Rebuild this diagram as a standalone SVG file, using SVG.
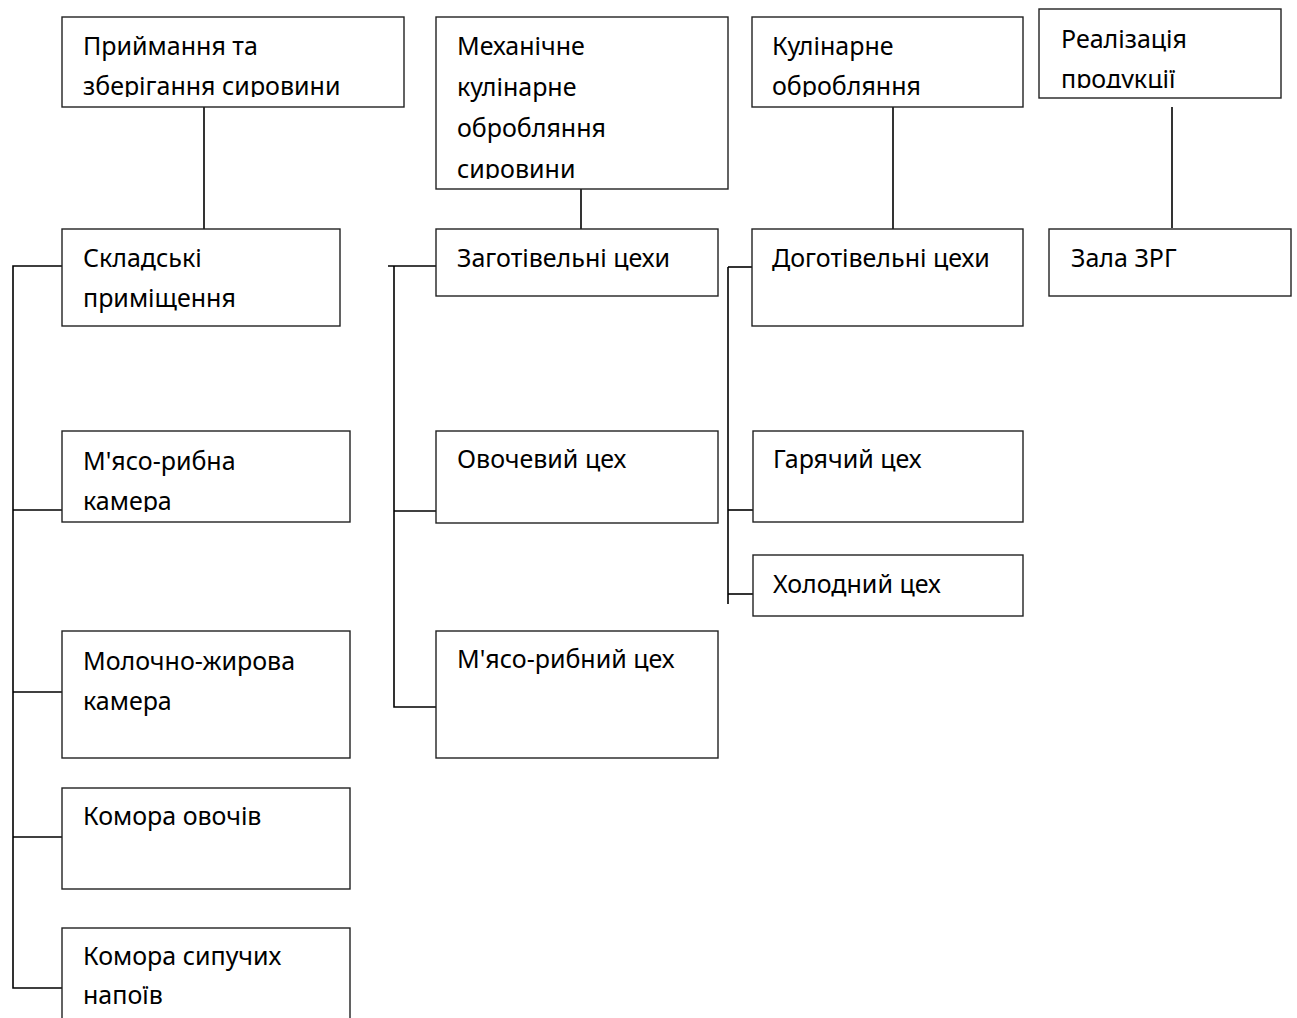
<svg xmlns="http://www.w3.org/2000/svg" width="1297" height="1018" viewBox="0 0 1297 1018">
<style>
.box{fill:#fff;stroke:#222;stroke-width:1.4}
.t{font-family:"Noto Sans","Open Sans",sans-serif;font-size:25px;fill:#000}
.c{stroke:#000;stroke-width:1.6;fill:none}
</style>
<defs>
<clipPath id="k1"><rect x="62" y="17" width="342" height="80"/></clipPath>
<clipPath id="k2"><rect x="436" y="17" width="292" height="162"/></clipPath>
<clipPath id="k3"><rect x="752" y="17" width="271" height="80"/></clipPath>
<clipPath id="k4"><rect x="1039" y="9" width="242" height="79"/></clipPath>
<clipPath id="k5"><rect x="62" y="431" width="288" height="81"/></clipPath>
</defs>
<rect width="1297" height="1018" fill="#fff"/>
<g id="connectors">
<line class="c" x1="204" y1="107" x2="204" y2="229"/>
<line class="c" x1="581" y1="189" x2="581" y2="229"/>
<line class="c" x1="893" y1="107" x2="893" y2="229"/>
<line class="c" x1="1172" y1="107" x2="1172" y2="228"/>
<polyline class="c" points="62,266 13,266 13,988 62,988"/>
<line class="c" x1="13" y1="510" x2="62" y2="510"/>
<line class="c" x1="13" y1="692" x2="62" y2="692"/>
<line class="c" x1="13" y1="837" x2="62" y2="837"/>
<line class="c" x1="388" y1="266" x2="436" y2="266"/>
<polyline class="c" points="394,266 394,707 436,707"/>
<line class="c" x1="394" y1="511" x2="436" y2="511"/>
<line class="c" x1="728" y1="267" x2="752" y2="267"/>
<line class="c" x1="728" y1="267" x2="728" y2="604"/>
<line class="c" x1="728" y1="510" x2="753" y2="510"/>
<line class="c" x1="728" y1="594" x2="753" y2="594"/>
</g>
<g id="n-pryimannia">
<rect class="box" x="62" y="17" width="342" height="90"/>
<g clip-path="url(#k1)"><text class="t" x="83" y="55">Приймання та</text><text class="t" x="83" y="95">зберігання сировини</text></g>
</g>
<g id="n-mekhanichne">
<rect class="box" x="436" y="17" width="292" height="172"/>
<g clip-path="url(#k2)"><text class="t" x="457" y="55">Механічне</text><text class="t" x="457" y="96">кулінарне</text><text class="t" x="457" y="137">обробляння</text><text class="t" x="457" y="178">сировини</text></g>
</g>
<g id="n-kulinarne">
<rect class="box" x="752" y="17" width="271" height="90"/>
<g clip-path="url(#k3)"><text class="t" x="772" y="55">Кулінарне</text><text class="t" x="772" y="95">обробляння</text></g>
</g>
<g id="n-realizatsiia">
<rect class="box" x="1039" y="9" width="242" height="89"/>
<g clip-path="url(#k4)"><text class="t" x="1061" y="48">Реалізація</text><text class="t" x="1061" y="88">продукції</text></g>
</g>
<g id="n-skladski">
<rect class="box" x="62" y="229" width="278" height="97"/>
<text class="t" x="83" y="267">Складські</text><text class="t" x="83" y="307">приміщення</text>
</g>
<g id="n-zagotivelni">
<rect class="box" x="436" y="229" width="282" height="67"/>
<text class="t" x="457" y="267">Заготівельні цехи</text>
</g>
<g id="n-dogotivelni">
<rect class="box" x="752" y="229" width="271" height="97"/>
<text class="t" x="772" y="267">Доготівельні цехи</text>
</g>
<g id="n-zala">
<rect class="box" x="1049" y="229" width="242" height="67"/>
<text class="t" x="1071" y="267">Зала ЗРГ</text>
</g>
<g id="n-miaso-kamera">
<rect class="box" x="62" y="431" width="288" height="91"/>
<g clip-path="url(#k5)"><text class="t" x="83" y="470">М'ясо-рибна</text><text class="t" x="83" y="510">камера</text></g>
</g>
<g id="n-ovochevyi">
<rect class="box" x="436" y="431" width="282" height="92"/>
<text class="t" x="457" y="468">Овочевий цех</text>
</g>
<g id="n-hariachyi">
<rect class="box" x="753" y="431" width="270" height="91"/>
<text class="t" x="773" y="468">Гарячий цех</text>
</g>
<g id="n-kholodnyi">
<rect class="box" x="753" y="555" width="270" height="61"/>
<text class="t" x="773" y="593">Холодний цех</text>
</g>
<g id="n-molochno">
<rect class="box" x="62" y="631" width="288" height="127"/>
<text class="t" x="83" y="670">Молочно-жирова</text><text class="t" x="83" y="710">камера</text>
</g>
<g id="n-miaso-tsekh">
<rect class="box" x="436" y="631" width="282" height="127"/>
<text class="t" x="457" y="668">М'ясо-рибний цех</text>
</g>
<g id="n-komora-ovochiv">
<rect class="box" x="62" y="788" width="288" height="101"/>
<text class="t" x="83" y="825">Комора овочів</text>
</g>
<g id="n-komora-sypuchykh">
<rect class="box" x="62" y="928" width="288" height="120"/>
<text class="t" x="83" y="965">Комора сипучих</text><text class="t" x="83" y="1004">напоїв</text>
</g>
</svg>
